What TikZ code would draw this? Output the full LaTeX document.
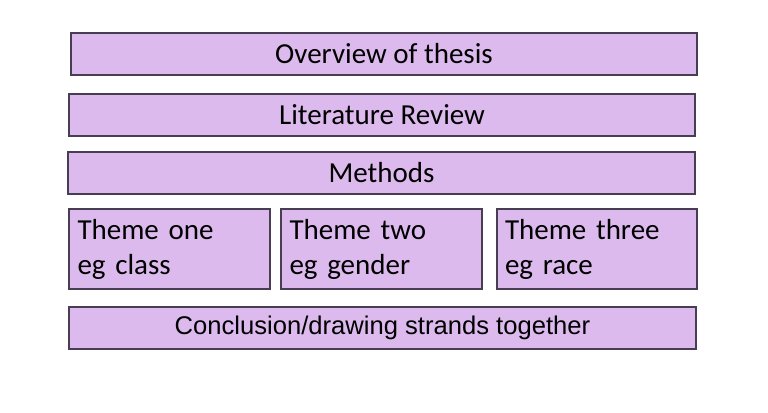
\documentclass[tikz,border=0pt]{standalone}
\usepackage{fontspec}
\setmainfont{Carlito}
\newfontfamily\arialfont{Liberation Sans}
\definecolor{boxfill}{RGB}{221,186,238}
\definecolor{boxline}{RGB}{72,62,84}
\begin{document}
\begin{tikzpicture}[x=0.5pt, y=-0.5pt,
		bar/.style={draw=boxline, fill=boxfill, line width=0.7pt, minimum height=21pt, inner sep=0pt, font=\fontsize{14.5}{17.5}\selectfont},
		theme/.style={draw=boxline, fill=boxfill, line width=0.7pt, minimum width=100.5pt, minimum height=40pt, inner xsep=4pt, inner ysep=0pt, text width=92pt, align=left, font=\fontsize{14.5}{17.5}\selectfont}]
				% Page frame
				\useasboundingbox (0,0) rectangle (768,413);

				% Draw full width bars
				\node[bar, minimum width=313pt] (overview) at (384,54) {Overview of thesis};
				\node[bar, minimum width=313pt] (litreview) at (382,115) {Literature Review};
				\node[bar, minimum width=313.5pt] (methods) at (381.5,173) {Methods};

				% Draw themes
				\node[theme] (themeone) at (169.5,249) {Theme one\\eg class};
				\node[theme] (themetwo) at (381.5,249) {Theme two\\eg gender};
				\node[theme, minimum width=100pt] (themethree) at (597,249) {Theme three\\eg race};

				% Conclusion
				\node[bar, minimum width=313.5pt, font=\arialfont\fontsize{12.8}{15}\selectfont] (conclusion) at (382.5,328) {Conclusion/drawing strands together};
			\end{tikzpicture}
\end{document}
